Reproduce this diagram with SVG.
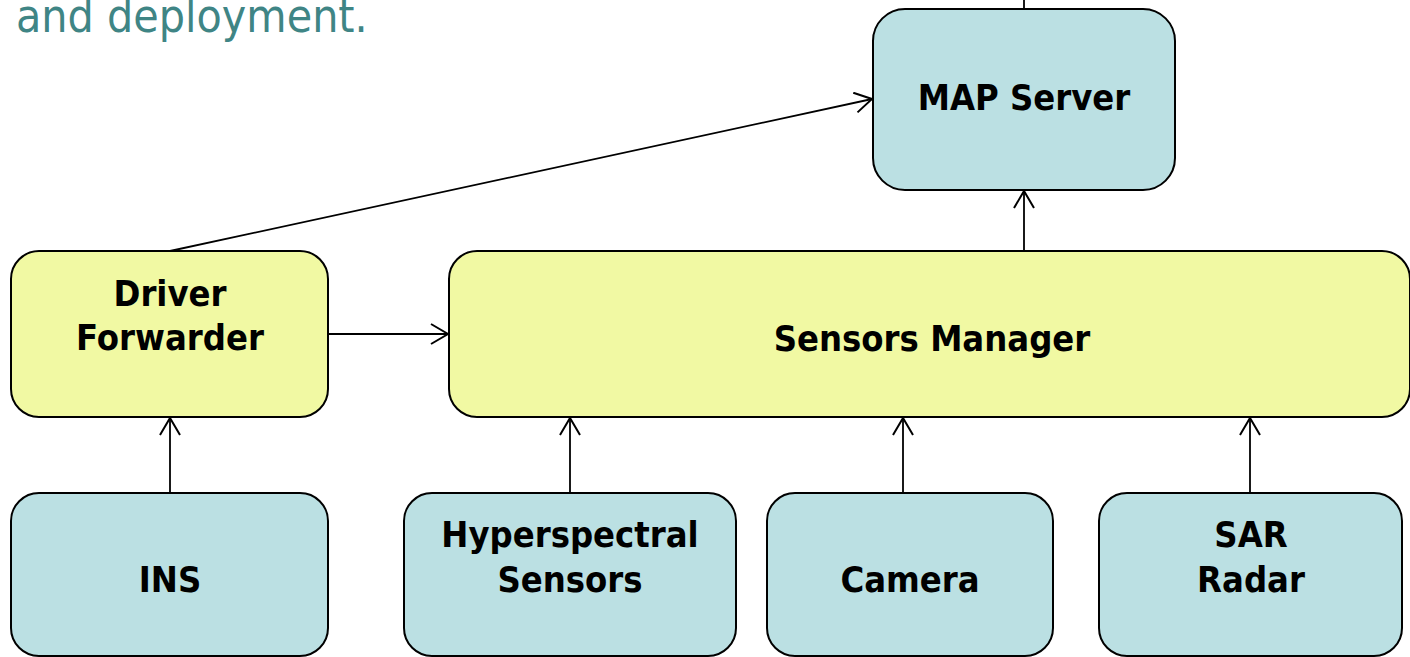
<svg xmlns="http://www.w3.org/2000/svg" width="1410" height="657" viewBox="0 0 1410 657">
<style>
.blue{fill:#bbe0e3;stroke:#000;stroke-width:2}
.yel{fill:#f1f9a3;stroke:#000;stroke-width:2}
.lbl{font-family:"DejaVu Sans Condensed","DejaVu Sans",sans-serif;font-stretch:condensed;font-weight:bold;font-size:36px;fill:#000;text-anchor:middle}
.title{font-family:"DejaVu Sans Condensed","DejaVu Sans",sans-serif;font-stretch:condensed;font-size:46px;fill:#3f8585}
.conn{stroke:#000;stroke-width:1.8;fill:none}
</style>
<defs>
<marker id="arr" markerWidth="20" markerHeight="24" refX="18" refY="11" orient="auto" markerUnits="userSpaceOnUse">
<path d="M1,1 L18,11 L1,21" fill="none" stroke="#000" stroke-width="2"/>
</marker>
</defs>
<text class="title" x="16" y="32">and deployment.</text>
<g id="connectors">
<line class="conn" x1="1024" y1="0" x2="1024" y2="9"/>
<line class="conn" x1="170" y1="251" x2="872" y2="99" marker-end="url(#arr)"/>
<line class="conn" x1="328" y1="334" x2="448" y2="334" marker-end="url(#arr)"/>
<line class="conn" x1="1024" y1="251" x2="1024" y2="191" marker-end="url(#arr)"/>
<line class="conn" x1="170" y1="493" x2="170" y2="418" marker-end="url(#arr)"/>
<line class="conn" x1="570" y1="493" x2="570" y2="418" marker-end="url(#arr)"/>
<line class="conn" x1="903" y1="493" x2="903" y2="418" marker-end="url(#arr)"/>
<line class="conn" x1="1250" y1="493" x2="1250" y2="418" marker-end="url(#arr)"/>
</g>
<g id="map-server">
<rect class="blue" x="873" y="9" width="302" height="181" rx="32"/>
<text class="lbl" x="1024" y="110">MAP Server</text>
</g>
<g id="driver-forwarder">
<rect class="yel" x="11" y="251" width="317" height="166" rx="28"/>
<text class="lbl" x="170" y="306">Driver</text>
<text class="lbl" x="170" y="350">Forwarder</text>
</g>
<g id="sensors-manager">
<rect class="yel" x="449" y="251" width="961" height="166" rx="28"/>
<text class="lbl" x="932" y="351">Sensors Manager</text>
</g>
<g id="ins">
<rect class="blue" x="11" y="493" width="317" height="163" rx="28"/>
<text class="lbl" x="170" y="592">INS</text>
</g>
<g id="hyperspectral">
<rect class="blue" x="404" y="493" width="332" height="163" rx="28"/>
<text class="lbl" x="570" y="547">Hyperspectral</text>
<text class="lbl" x="570" y="592">Sensors</text>
</g>
<g id="camera">
<rect class="blue" x="767" y="493" width="286" height="163" rx="28"/>
<text class="lbl" x="910" y="592">Camera</text>
</g>
<g id="sar-radar">
<rect class="blue" x="1099" y="493" width="303" height="163" rx="28"/>
<text class="lbl" x="1251" y="547">SAR</text>
<text class="lbl" x="1251" y="592">Radar</text>
</g>
</svg>
